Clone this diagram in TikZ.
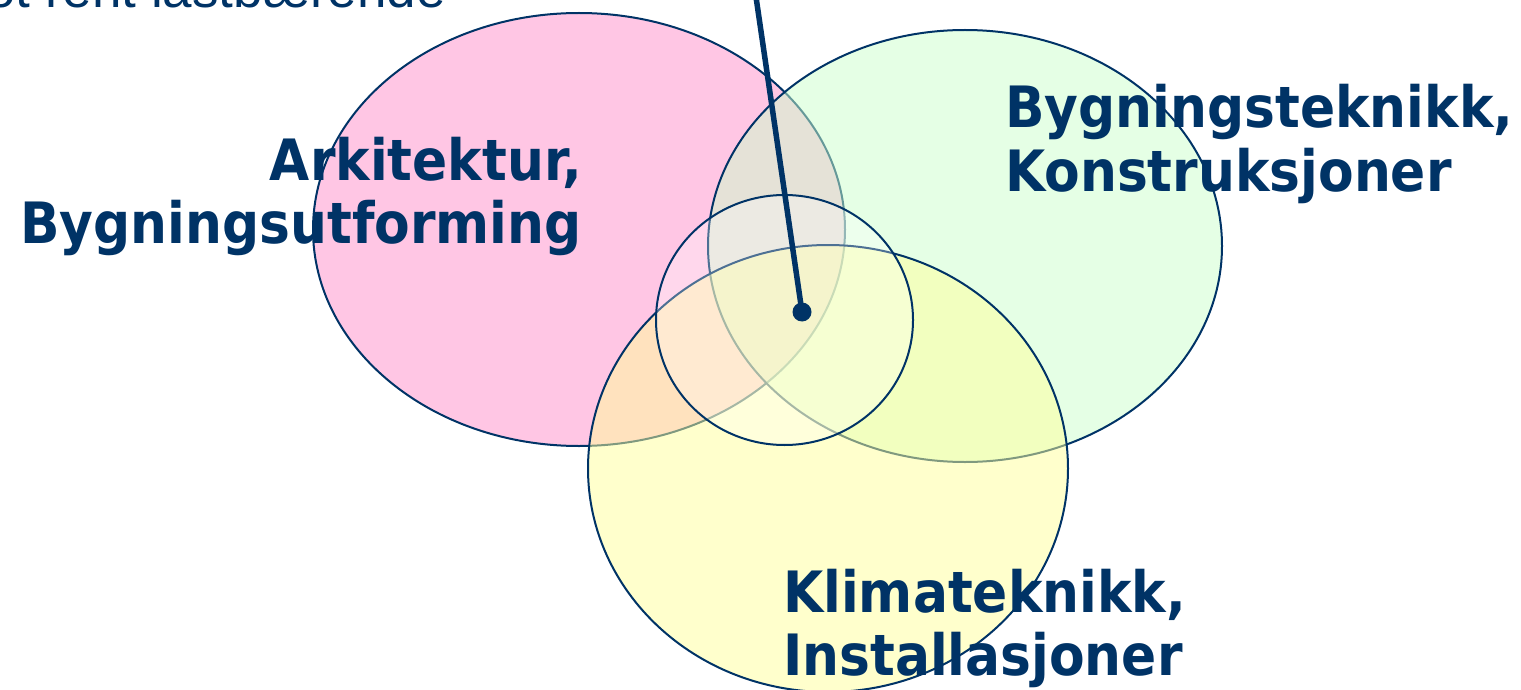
\documentclass[tikz,border=0pt]{standalone}
\usepackage{fontspec}
\usetikzlibrary{shapes.geometric}
\newfontfamily\labfont{DejaVu Sans}[FakeStretch=0.91]
\newfontfamily\topfont{Liberation Sans}
\definecolor{navy}{RGB}{0,51,102}
\definecolor{pinkc}{RGB}{255,198,228}
\definecolor{greenc}{RGB}{204,255,204}
\definecolor{yellowc}{RGB}{255,255,153}
\tikzset{
  venn/.style={ellipse, draw=navy, line width=2pt, inner sep=0pt},
  lab/.style={text=navy, inner sep=0pt, font=\labfont\bfseries\fontsize{57}{63}\selectfont},
  toptext/.style={text=navy, inner sep=0pt, font=\topfont\fontsize{53}{60}\selectfont},
}
\begin{document}
\begin{tikzpicture}[x=1pt,y=-1pt]
\useasboundingbox (0,0) rectangle (1521,690);
% ellipses
\node[venn, fill=pinkc, minimum width=532pt, minimum height=433pt] (ark) at (579,229.5) {};
\node[venn, fill=greenc, fill opacity=0.5, minimum width=514pt, minimum height=432pt] (byg) at (965,246) {};
\node[venn, fill=yellowc, fill opacity=0.5, minimum width=480pt, minimum height=447pt] (kli) at (828,468.5) {};
\node[venn, fill=white, fill opacity=0.3, minimum width=257pt, minimum height=250pt] (core) at (784.5,320) {};
% top cut text
\node[toptext, anchor=base west] (top) at (-14,8) {ot rent lastbærende};
% labels
\node[lab, anchor=base east] (ark1) at (582,180) {Arkitektur,};
\node[lab, anchor=base east] (ark2) at (582,243) {Bygningsutforming};
\node[lab, anchor=base west] (byg1) at (1005,128) {Bygningsteknikk,};
\node[lab, anchor=base west] (byg2) at (1005,191) {Konstruksjoner};
\node[lab, anchor=base west] (kli1) at (783,612) {Klimateknikk,};
\node[lab, anchor=base west] (kli2) at (783,675) {Installasjoner};
% pointer
\coordinate (ptop) at (756,-3);
\node[circle, fill=navy, minimum size=19pt, inner sep=0pt] (dot) at (802,312) {};
\draw[navy, line width=5.5pt] (ptop) -- (dot.center);
\end{tikzpicture}
\end{document}
